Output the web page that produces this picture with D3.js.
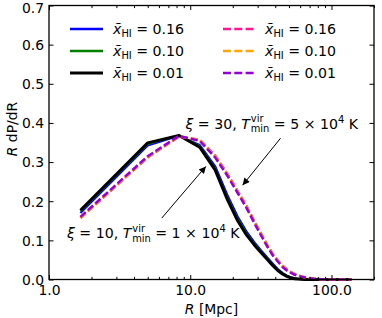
<!DOCTYPE html>
<html><head><meta charset="utf-8">
<script src="https://cdn.jsdelivr.net/npm/d3@7"></script>
<style>
html,body{margin:0;padding:0;background:#fff;}
svg{display:block;}
text{font-family:"DejaVu Sans",sans-serif;}
</style></head>
<body>
<svg id="c" width="382" height="318"></svg>
<script>
// ---- data ----
const R = [1.67, 5, 8.33, 11.67, 15, 18.33, 21.67, 25, 28.33, 31.67, 35, 38.33, 41.67, 45, 48.33, 51.67, 55, 58.33, 61.67, 65, 68.33, 71.67, 75, 78.33, 81.67, 85, 88.33, 91.67, 95, 98.33, 101.67, 105, 108.33, 111.67, 115, 118.33, 121.67, 125, 128.33, 131.67, 135, 138.33];

const blue16 = [0.170, 0.342, 0.367, 0.344, 0.290, 0.216, 0.161, 0.123, 0.096, 0.075, 0.057, 0.041, 0.027, 0.017, 0.010, 0.006, 0.003, 0.002, 0.001, 0.0005, 0.0002, 0, 0, 0, 0, 0, 0, 0, 0, 0, 0, 0, 0, 0, 0, 0, 0, 0, 0, 0, 0, 0];
const green10 = [0.174, 0.346, 0.368, 0.341, 0.284, 0.209, 0.155, 0.118, 0.092, 0.072, 0.054, 0.038, 0.025, 0.015, 0.009, 0.005, 0.003, 0.0015, 0.0008, 0.0004, 0.0002, 0, 0, 0, 0, 0, 0, 0, 0, 0, 0, 0, 0, 0, 0, 0, 0, 0, 0, 0, 0, 0];
const black01 = [0.177, 0.349, 0.368, 0.338, 0.280, 0.204, 0.150, 0.114, 0.089, 0.069, 0.052, 0.036, 0.023, 0.014, 0.008, 0.004, 0.002, 0.001, 0.0005, 0.0002, 0, 0, 0, 0, 0, 0, 0, 0, 0, 0, 0, 0, 0, 0, 0, 0, 0, 0, 0, 0, 0, 0];
const pink16 = [0.157, 0.312, 0.365, 0.357, 0.317, 0.270, 0.226, 0.188, 0.150, 0.118, 0.089, 0.066, 0.049, 0.035, 0.026, 0.019, 0.014, 0.010, 0.0077, 0.0056, 0.004, 0.003, 0.0022, 0.0016, 0.0012, 0.0009, 0.0007, 0.0005, 0.0004, 0.0003, 0.0002, 0.0001, 0, 0, 0, 0, 0, 0, 0, 0, 0, 0];
const orange10 = [0.158, 0.313, 0.366, 0.356, 0.315, 0.268, 0.224, 0.186, 0.148, 0.116, 0.088, 0.065, 0.048, 0.034, 0.025, 0.018, 0.013, 0.0095, 0.0072, 0.0052, 0.0037, 0.0028, 0.002, 0.0015, 0.0011, 0.0008, 0.0006, 0.0005, 0.0004, 0.0003, 0.0002, 0.0001, 0, 0, 0, 0, 0, 0, 0, 0, 0, 0];
const purple01 = [0.160, 0.315, 0.367, 0.354, 0.312, 0.265, 0.221, 0.183, 0.145, 0.113, 0.085, 0.062, 0.046, 0.032, 0.023, 0.017, 0.012, 0.009, 0.0068, 0.0049, 0.0035, 0.0026, 0.0019, 0.0014, 0.001, 0.0008, 0.0006, 0.0004, 0.0003, 0.0002, 0.0001, 0, 0, 0, 0, 0, 0, 0, 0, 0, 0, 0];

const seriesNames = ["0.16", "0.10", "0.01", "0.16", "0.10", "0.01"];
const seriesColors = ["#0000ff", "#008000", "#000000", "#ff1493", "#ffa500", "#9400d3"];
const seriesDashed = [false, false, false, true, true, true];
const seriesWidths = [2, 2, 3, 2.5, 2.5, 2.5];
const seriesData = [blue16, green10, black01, pink16, orange10, purple01];

const yTicks = [0, 0.1, 0.2, 0.3, 0.4, 0.5, 0.6, 0.7];
const xMajor = [1, 10, 100];
const xMinor = [2,3,4,5,6,7,8,9,20,30,40,50,60,70,80,90,200];

// annotation anchors in data coordinates
const annTop = {R: 9.25, v: 0.385, xi: "30", T: "5", tipR: 23.5, tipV: 0.241, tailR: 43.6, tailV: 0.361};
const annBot = {R: 1.34, v: 0.106, xi: "10", T: "1", tipR: 12.9, tipV: 0.289, tailR: 6.29, tailV: 0.157};

// ---- chart ----
const svg = d3.select("#c");
const L = 49, Rr = 374, T = 5.5, B = 279.5;
const x = d3.scaleLog().domain([1, 200]).range([L, Rr]);
const y = d3.scaleLinear().domain([0, 0.7]).range([B, T]);
const FS = 13.9, AFS = 14.15;

const defs = svg.append("defs");
defs.append("marker").attr("id","ah").attr("viewBox","0 0 10 10")
  .attr("refX",10).attr("refY",5).attr("markerUnits","userSpaceOnUse")
  .attr("markerWidth",9).attr("markerHeight",7).attr("orient","auto")
  .append("path").attr("d","M0,0 L10,5 L0,10 z").attr("fill","#000");

const line = d3.line().x((d,i)=>x(R[i])).y(d=>y(d));
seriesData.forEach((s,k)=>{
  svg.append("path").datum(s).attr("d", line)
    .attr("fill","none").attr("stroke", seriesColors[k])
    .attr("stroke-width", seriesWidths[k])
    .attr("stroke-dasharray", seriesDashed[k] ? "7,3" : null)
    .attr("stroke-linejoin","round");
});

// axes
function styleAxis(g){ g.select(".domain").remove(); g.selectAll("line").attr("stroke","#000").attr("stroke-width",1);
  g.selectAll("text").attr("font-size",FS).attr("font-family","DejaVu Sans").attr("fill","#000"); }
svg.append("g").attr("transform",`translate(${L},0)`)
  .call(d3.axisLeft(y).tickValues(yTicks).tickFormat(d3.format(".1f")).tickSizeInner(-4.5).tickSizeOuter(0).tickPadding(5))
  .call(styleAxis)
  .call(g=>g.selectAll("text").attr("dy", d => d === 0.7 ? "0.52em" : "0.35em"));
svg.append("g").attr("transform",`translate(${Rr},0)`)
  .call(d3.axisRight(y).tickValues(yTicks).tickFormat("").tickSizeInner(-4.5).tickSizeOuter(0))
  .call(styleAxis);
svg.append("g").attr("transform",`translate(0,${B})`)
  .call(d3.axisBottom(x).tickValues(xMajor).tickFormat(d3.format(".1f")).tickSizeInner(-4.5).tickSizeOuter(0).tickPadding(6))
  .call(styleAxis);
svg.append("g").attr("transform",`translate(0,${B})`)
  .call(d3.axisBottom(x).tickValues(xMinor).tickFormat("").tickSizeInner(-2.6).tickSizeOuter(0))
  .call(styleAxis);
svg.append("g").attr("transform",`translate(0,${T})`)
  .call(d3.axisTop(x).tickValues(xMajor).tickFormat("").tickSizeInner(-4.5).tickSizeOuter(0))
  .call(styleAxis);
svg.append("g").attr("transform",`translate(0,${T})`)
  .call(d3.axisTop(x).tickValues(xMinor).tickFormat("").tickSizeInner(-2.6).tickSizeOuter(0))
  .call(styleAxis);
svg.append("rect").attr("x",L).attr("y",T).attr("width",Rr-L).attr("height",B-T)
  .attr("fill","none").attr("stroke","#000").attr("stroke-width",1.3);

// axis labels
const xl = svg.append("text").attr("x",(L+Rr)/2).attr("y",314).attr("text-anchor","middle").attr("font-size",FS);
xl.append("tspan").attr("font-style","italic").text("R");
xl.append("tspan").text(" [Mpc]");
const yl = svg.append("text").attr("transform",`translate(17,129) rotate(-90)`).attr("text-anchor","middle").attr("font-size",FS);
yl.append("tspan").attr("font-style","italic").text("R");
yl.append("tspan").text(" dP/dR");

// legend
const legCols = [{lx:70, tx:113}, {lx:223, tx:265}];
const legRows = [29, 51, 73];
seriesData.forEach((s,k)=>{
  const c = legCols[Math.floor(k/3)], ry = legRows[k%3];
  svg.append("line").attr("x1",c.lx).attr("x2",c.lx+33).attr("y1",ry).attr("y2",ry)
    .attr("stroke",seriesColors[k]).attr("stroke-width",seriesDashed[k]?2.5:(k==2?3:2.5))
    .attr("stroke-dasharray", seriesDashed[k] ? "8,3.3" : null);
  const t = svg.append("text").attr("x",c.tx).attr("y",ry+5).attr("font-size",AFS);
  t.append("tspan").attr("font-style","italic").text("x\u0304");
  t.append("tspan").attr("font-size",AFS*0.7).attr("dy",3).text("HI");
  t.append("tspan").attr("dy",-3).text(" = " + seriesNames[k]);
});

// annotations
function ann(a){
  const t = svg.append("text").attr("x",x(a.R)).attr("y",y(a.v)).attr("font-size",AFS);
  t.append("tspan").attr("font-style","italic").text("\u03be");
  t.append("tspan").text(" = " + a.xi + ", ");
  t.append("tspan").attr("font-style","italic").text("T");
  const sup = t.append("tspan").attr("font-size",AFS*0.7).attr("dy",-6.5).attr("dx",1).text("vir");
  const wv = sup.node().getComputedTextLength();
  const sub = t.append("tspan").attr("font-size",AFS*0.7).attr("dy",10).attr("dx",-wv).text("min");
  const wm = sub.node().getComputedTextLength();
  t.append("tspan").attr("dy",-3.5).attr("dx",Math.max(0,wv-wm)).text(" = " + a.T + " \u00d7 10");
  t.append("tspan").attr("font-size",AFS*0.7).attr("dy",-6).text("4");
  t.append("tspan").attr("dy",6).text(" K");
  svg.append("line").attr("x1",x(a.tailR)).attr("y1",y(a.tailV)).attr("x2",x(a.tipR)).attr("y2",y(a.tipV))
    .attr("stroke","#000").attr("stroke-width",1).attr("marker-end","url(#ah)");
}
ann(annTop);
ann(annBot);
</script>
</body></html>
